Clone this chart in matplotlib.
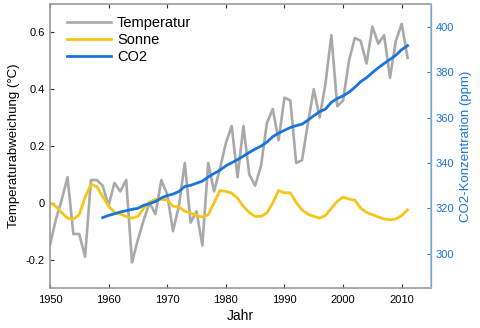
import matplotlib
matplotlib.use("Agg")
import matplotlib.pyplot as plt

plt.rcParams['font.family'] = ['Liberation Sans', 'DejaVu Sans']

# Temperaturabweichung (°C), 1950-2011
years = list(range(1950, 2012))
temp = [-0.15, -0.06, 0.01, 0.09, -0.11, -0.11, -0.19, 0.08, 0.08, 0.06,
        -0.01, 0.07, 0.04, 0.08, -0.21, -0.13, -0.06, 0.0, -0.04, 0.08,
        0.03, -0.10, -0.01, 0.14, -0.07, -0.03, -0.15, 0.14, 0.04, 0.12,
        0.21, 0.27, 0.09, 0.27, 0.10, 0.06, 0.13, 0.28, 0.33, 0.22,
        0.37, 0.36, 0.14, 0.15, 0.28, 0.40, 0.30, 0.42, 0.59, 0.34,
        0.36, 0.50, 0.58, 0.57, 0.49, 0.62, 0.56, 0.59, 0.44, 0.57,
        0.63, 0.51]

# Sonne (geglättet, in Einheiten der linken Achse)
sun = [0.0, -0.012, -0.035, -0.054, -0.057, -0.042, 0.02, 0.065, 0.057, 0.022,
       -0.012, -0.034, -0.04, -0.048, -0.054, -0.048, -0.019, 0.002, 0.012, 0.012,
       0.01, -0.012, -0.015, -0.03, -0.036, -0.045, -0.05, -0.042, 0.0, 0.043,
       0.04, 0.034, 0.016, -0.013, -0.034, -0.048, -0.048, -0.036, -0.001, 0.043,
       0.035, 0.035, 0.001, -0.025, -0.04, -0.048, -0.054, -0.045, -0.019, 0.005,
       0.02, 0.013, 0.009, -0.019, -0.034, -0.042, -0.05, -0.057, -0.06, -0.057,
       -0.045, -0.025]

# CO2 (ppm), Mauna Loa 1959-2011
co2_years = list(range(1959, 2012))
co2 = [315.97, 316.91, 317.64, 318.45, 318.99, 319.62, 320.04, 321.38, 322.16, 323.04,
       324.62, 325.68, 326.32, 327.45, 329.68, 330.18, 331.11, 332.04, 333.83, 335.40,
       336.84, 338.75, 340.11, 341.45, 343.05, 344.65, 346.12, 347.42, 349.19, 351.57,
       353.12, 354.39, 355.61, 356.45, 357.10, 358.83, 360.82, 362.61, 363.73, 366.70,
       368.38, 369.55, 371.14, 373.28, 375.80, 377.52, 379.80, 381.90, 383.79, 385.60,
       387.43, 389.90, 391.65]

grey = "#a9a9a9"
gold = "#f5c518"
blue = "#1a74db"

fig = plt.figure(figsize=(4.8, 3.28), dpi=100)
ax = fig.add_axes([0.104, 0.122, 0.794, 0.866])
l1, = ax.plot(years, temp, color=grey, lw=1.9, label="Temperatur")
l2, = ax.plot(years, sun, color=gold, lw=2, label="Sonne")
ax.set_xlim(1950, 2015)
ax.set_ylim(-0.3, 0.7)
ax.set_xticks([1950, 1960, 1970, 1980, 1990, 2000, 2010])
ax.set_yticks([-0.2, 0, 0.2, 0.4, 0.6])
ax.set_yticklabels(["-0.2", "0", "0.2", "0.4", "0.6"])
ax.tick_params(direction="in", labelsize=8, top=True, length=3, color="#333333")
ax.tick_params(axis="x", pad=5)
ax.set_xlabel("Jahr", fontsize=10, labelpad=3)
ax.set_ylabel("Temperaturabweichung (°C)", fontsize=9.5, labelpad=4)
for s in ["left", "bottom", "top"]:
    ax.spines[s].set_color("#999999")
    ax.spines[s].set_linewidth(1.2)

ax2 = ax.twinx()
l3, = ax2.plot(co2_years, co2, color=blue, lw=2, label="CO2")
ax2.set_ylim(285, 410)
ax2.set_yticks([300, 320, 340, 360, 380, 400])
ax2.tick_params(direction="in", labelsize=8, colors=blue, length=3)
ax2.set_ylabel("CO2-Konzentration (ppm)", fontsize=9.5, color=blue, labelpad=4)
ax2.spines["right"].set_color("#9cc3ec")
ax2.spines["right"].set_linewidth(1.2)
for s in ["left", "bottom", "top"]:
    ax2.spines[s].set_visible(False)

ax.legend([l1, l2, l3], ["Temperatur", "Sonne", "CO2"], loc="upper left",
          frameon=False, fontsize=10.5, handlelength=3.0, handletextpad=0.4,
          labelspacing=0.2, borderaxespad=0.4, bbox_to_anchor=(0.015, 0.997))

fig.savefig("out.png", dpi=100)
